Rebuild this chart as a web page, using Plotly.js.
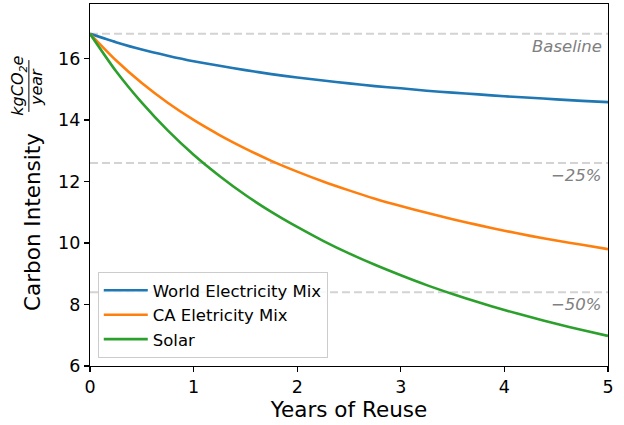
<!DOCTYPE html>
<html>
<head>
<meta charset="utf-8">
<script src="https://cdn.plot.ly/plotly-3.0.1.min.js"></script>
<style>html,body{margin:0;padding:0;background:#fff}#chart{width:624px;height:425px}</style>
</head>
<body>
<div id="chart"></div>
<script>
const years = [0,0.25,0.5,0.75,1,1.25,1.5,1.75,2,2.25,2.5,2.75,3,3.25,3.5,3.75,4,4.25,4.5,4.75,5];
const worldMix = [16.80,16.53,16.29,16.09,15.91,15.76,15.62,15.49,15.38,15.28,15.19,15.10,15.03,14.95,14.89,14.83,14.77,14.72,14.67,14.62,14.58];
const caMix    = [16.80,15.94,15.20,14.56,14.00,13.51,13.07,12.67,12.32,12.00,11.71,11.44,11.20,10.98,10.77,10.58,10.40,10.23,10.08,9.94,9.80];
const solar    = [16.80,15.59,14.56,13.66,12.87,12.18,11.56,11.01,10.52,10.07,9.66,9.29,8.95,8.63,8.34,8.07,7.82,7.59,7.37,7.17,6.98];
const seriesNames = ["World Electricity Mix","CA Eletricity Mix","Solar"];
const refLevels = [16.8, 12.6, 8.4];
const refLabels = ["Baseline","\u221225%","\u221250%"];
const xRange = [0,5];
const yRange = [6,17.77];
const xTicks = [0,1,2,3,4,5];
const yTicks = [6,8,10,12,14,16];

const colors = ["#1f77b4","#ff7f0e","#2ca02c"];
const traces = [];
refLevels.forEach(function(v){
  traces.push({x:xRange, y:[v,v], mode:"lines", showlegend:false, hoverinfo:"skip",
    line:{color:"#d3d3d3", width:2, dash:"8px,4px"}});
});
[worldMix, caMix, solar].forEach(function(s,i){
  traces.push({x:years, y:s, mode:"lines", name:seriesNames[i], line:{color:colors[i], width:2.6, shape:"spline", smoothing:0.6}});
});

const annotations = refLevels.map(function(v,i){
  return {x:5, y:v, xref:"x", yref:"y", text:"<i>"+refLabels[i]+"</i>", showarrow:false,
    xanchor:"right", yanchor:"top", xshift:-4, yshift:-1, font:{size:16.5, color:"#808080"}};
});
annotations.push({x:-0.110, y:0.398, xref:"paper", yref:"paper", text:"Carbon Intensity", textangle:-90,
  showarrow:false, xanchor:"center", yanchor:"middle", font:{size:21.5, color:"#000"}});
annotations.push({x:-0.138, y:0.773, xref:"paper", yref:"paper", text:"<i>kgCO<sub>2</sub>e</i>", textangle:-90,
  showarrow:false, xanchor:"center", yanchor:"middle", font:{size:16, color:"#000"}});
annotations.push({x:-0.102, y:0.771, xref:"paper", yref:"paper", text:"<i>year</i>", textangle:-90,
  showarrow:false, xanchor:"center", yanchor:"middle", font:{size:16, color:"#000"}});

const layout = {
  width:624, height:425,
  margin:{l:90, r:16, t:4, b:59},
  paper_bgcolor:"#fff", plot_bgcolor:"#fff",
  font:{family:"DejaVu Sans, sans-serif", size:17, color:"#000"},
  showlegend:true,
  legend:{x:0.015, y:0.022, xanchor:"left", yanchor:"bottom", bgcolor:"rgba(255,255,255,0.85)",
    bordercolor:"#cccccc", borderwidth:1, font:{size:16.5}, tracegroupgap:0, itemwidth:44},
  xaxis:{range:xRange, tickvals:xTicks, ticks:"outside", ticklen:5, tickwidth:1.2, tickcolor:"#000",
    showline:true, linecolor:"#000", linewidth:1.2, mirror:true, showgrid:false, zeroline:false,
    tickfont:{size:17.5}, title:{text:"Years of Reuse", font:{size:21.5}, standoff:4}},
  yaxis:{range:yRange, tickvals:yTicks, ticks:"outside", ticklen:5, tickwidth:1.2, tickcolor:"#000",
    showline:true, linecolor:"#000", linewidth:1.2, mirror:true, showgrid:false, zeroline:false,
    tickfont:{size:17.5}},
  annotations:annotations,
  shapes:[{type:"line", xref:"paper", yref:"paper", x0:-0.118, x1:-0.118, y0:0.702, y1:0.845,
    line:{color:"#000", width:1}}]
};
Plotly.newPlot("chart", traces, layout, {displayModeBar:false, staticPlot:true});
</script>
</body>
</html>
